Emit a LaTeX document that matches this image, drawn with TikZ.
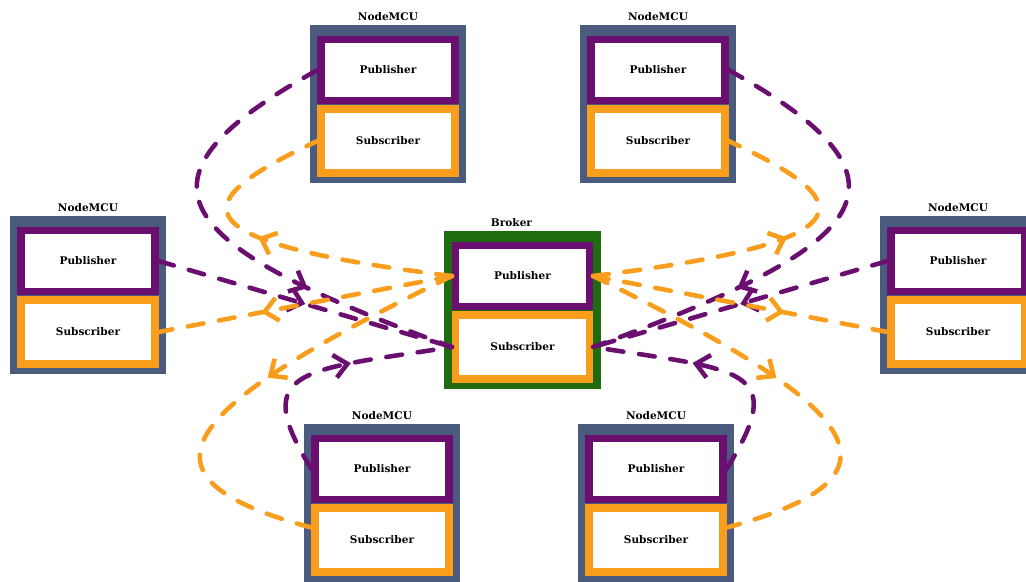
\documentclass[tikz,border=0pt]{standalone}
\usepackage{fontspec}
\setmainfont{DejaVu Serif}
\usepackage{tikz}
\usetikzlibrary{arrows.meta,positioning,decorations.markings}
\definecolor{slate}{HTML}{4A5B7E}
\definecolor{pubpurple}{HTML}{6A0F70}
\definecolor{suborange}{HTML}{F99D1C}
\definecolor{brokergreen}{HTML}{1E6B10}
\tikzset{
  mcu/.style={fill=slate,minimum width=3.12cm,minimum height=3.16cm,inner sep=0pt},
  brokerbox/.style={fill=brokergreen,minimum width=3.14cm,minimum height=3.16cm,
                    inner sep=0pt},
  pubcard/.style={draw=pubpurple,fill=white,line width=4pt,minimum width=2.68cm,
                  minimum height=1.22cm,font=\fontsize{6}{8}\selectfont\bfseries},
  subcard/.style={draw=suborange,fill=white,line width=4pt,minimum width=2.68cm,
                  minimum height=1.28cm,font=\fontsize{6}{8}\selectfont\bfseries},
  mcutitle/.style={font=\fontsize{6}{8}\selectfont\bfseries,inner sep=1pt},
  midarrow/.style={postaction={decorate},decoration={markings,
     mark=at position #1 with {\arrow[solid]{Straight Barb[length=2.6mm,width=4.6mm]}}}},
  purplearr/.style={draw=pubpurple,line width=2.6pt,line cap=round,
                    dash pattern=on 9pt off 9pt},
  orangearr/.style={draw=suborange,line width=2.6pt,line cap=round,
                    dash pattern=on 9pt off 9pt}
}
\begin{document}
\begin{tikzpicture}[x=1cm,y=1cm]
    \useasboundingbox (0,0) rectangle (20.52,-11.64);

    % devices
    \node[mcu] (tl) at (7.76,-2.08) {};
    \node[pubcard] (tl-pub) at (7.76,-1.40) {Publisher};
    \node[subcard] (tl-sub) at (7.76,-2.82) {Subscriber};
    \node[mcutitle,above=1pt of tl] (tl-name) {NodeMCU};

    \node[mcu] (tr) at (13.16,-2.08) {};
    \node[pubcard] (tr-pub) at (13.16,-1.40) {Publisher};
    \node[subcard] (tr-sub) at (13.16,-2.82) {Subscriber};
    \node[mcutitle,above=1pt of tr] (tr-name) {NodeMCU};

    \node[mcu] (l) at (1.76,-5.90) {};
    \node[pubcard] (l-pub) at (1.76,-5.22) {Publisher};
    \node[subcard] (l-sub) at (1.76,-6.64) {Subscriber};
    \node[mcutitle,above=1pt of l] (l-name) {NodeMCU};

    \node[mcu] (r) at (19.16,-5.90) {};
    \node[pubcard] (r-pub) at (19.16,-5.22) {Publisher};
    \node[subcard] (r-sub) at (19.16,-6.64) {Subscriber};
    \node[mcutitle,above=1pt of r] (r-name) {NodeMCU};

    \node[mcu] (bl) at (7.64,-10.06) {};
    \node[pubcard] (bl-pub) at (7.64,-9.38) {Publisher};
    \node[subcard] (bl-sub) at (7.64,-10.80) {Subscriber};
    \node[mcutitle,above=1pt of bl] (bl-name) {NodeMCU};

    \node[mcu] (br) at (13.12,-10.06) {};
    \node[pubcard] (br-pub) at (13.12,-9.38) {Publisher};
    \node[subcard] (br-sub) at (13.12,-10.80) {Subscriber};
    \node[mcutitle,above=1pt of br] (br-name) {NodeMCU};

    % broker
    \node[brokerbox] (brk) at (10.45,-6.20) {};
    \node[pubcard] (brk-pub) at (10.45,-5.52) {Publisher};
    \node[subcard] (brk-sub) at (10.45,-6.94) {Subscriber};
    \node[mcutitle,above=1pt of brk,xshift=-0.22cm] (brk-name) {Broker};

    % publish
    \draw[purplearr,midarrow=0.68] (tl-pub.west)
      .. controls +(209:4.6) and +(160:6) .. (brk-sub.west);
    \draw[purplearr,midarrow=0.5] (l-pub.east) -- (brk-sub.west);
    \draw[purplearr,midarrow=0.6] (bl-pub.west)
      .. controls +(122:2.4) and +(189:3) .. (brk-sub.west);
    \draw[purplearr,midarrow=0.68] (tr-pub.east)
      .. controls +(331:4.6) and +(20:6) .. (brk-sub.east);
    \draw[purplearr,midarrow=0.5] (r-pub.west) -- (brk-sub.east);
    \draw[purplearr,midarrow=0.6] (br-pub.east)
      .. controls +(58:2.4) and +(351:3) .. (brk-sub.east);

    % deliver
    \draw[orangearr,midarrow=0.55] (brk-pub.west)
      .. controls +(173:5.8) and +(205:2.8) .. (tl-sub.west);
    \draw[orangearr,midarrow=0.65] (brk-pub.west) -- (l-sub.east);
    \draw[orangearr,midarrow=0.46] (brk-pub.west)
      .. controls +(206:6) and +(165:4) .. (bl-sub.170);
    \draw[orangearr,midarrow=0.55] (brk-pub.east)
      .. controls +(7:5.8) and +(335:2.8) .. (tr-sub.east);
    \draw[orangearr,midarrow=0.65] (brk-pub.east) -- (r-sub.west);
    \draw[orangearr,midarrow=0.46] (brk-pub.east)
      .. controls +(334:6) and +(15:4) .. (br-sub.10);
  \end{tikzpicture}
\end{document}
